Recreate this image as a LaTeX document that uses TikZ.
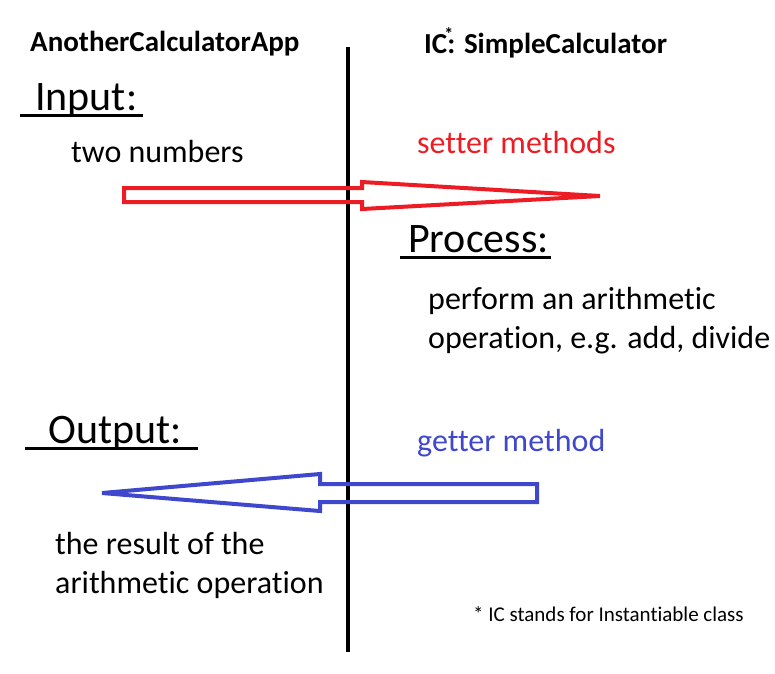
\documentclass[tikz,border=0pt]{standalone}
\usepackage{fontspec}
\setmainfont{Carlito}[Ligatures=NoCommon]
\usepackage{tikz}
\usetikzlibrary{calc}
\definecolor{paintred}{HTML}{ED1C24}
\definecolor{paintblue}{HTML}{3F48CC}
\newcommand{\icstar}{\rlap{\kern-3pt\raisebox{13pt}{\fontsize{18}{20}\selectfont *}}}
\tikzset{
  cls/title/.style={font=\fontsize{29}{34}\selectfont\bfseries, anchor=base west, inner sep=0pt},
  io/head/.style={font=\fontsize{42}{50}\selectfont, anchor=base west, inner sep=0pt},
  io/text/.style={font=\fontsize{32}{39}\selectfont, anchor=base west, inner sep=0pt, align=left},
  io/note/.style={font=\fontsize{21}{25}\selectfont, anchor=base west, inner sep=0pt},
  io/uline/.style={line width=3pt},
  io/divider/.style={line width=4pt},
  call/red/.style={draw=paintred, line width=4pt, line join=miter},
  call/blue/.style={draw=paintblue, line width=4pt, line join=miter}
}

\begin{document}
\begin{tikzpicture}[x=1pt, y=-1pt]
\useasboundingbox (0,0) rectangle (775,673);

% class names
\node[cls/title] (app) at (30,51) {AnotherCalculatorApp};
\node[cls/title] (ic) at (424,53) {IC\icstar: SimpleCalculator};

% dividing line
\coordinate (top) at (348,47);
\coordinate (bot) at (348,652);
\draw[io/divider] (top) -- (bot);

% input side
\node[io/head] (input) at (35,110) {Input:};
\draw[io/uline] (20,115) -- (143,115);
\node[io/text] (nums) at (71,162) {two numbers};
\node[io/text, text=paintred] (setter) at (417,153) {setter methods};

% setter arrow
\coordinate (redtip) at (600,196);
\draw[call/red] (124,188) -- (362,188) -- (362,182) -- (redtip)
  -- (362,209) -- (362,202) -- (124,202) -- cycle;

% process
\node[io/head] (process) at (408,252) {Process:};
\draw[io/uline] (400,257) -- (551,257);
\node[io/text] (op1) at (428,309) {perform an arithmetic};
\node[io/text] (op2) at (428,348) {operation, e.g. add, divide};

% output side
\node[io/head] (output) at (48,443) {Output:};
\draw[io/uline] (25,448) -- (198,448);
\node[io/text, text=paintblue] (getter) at (417,451) {getter method};

% getter arrow
\coordinate (bluetip) at (102,493);
\draw[call/blue] (537,484) -- (320,484) -- (320,474) -- (bluetip)
  -- (320,511) -- (320,502) -- (537,502) -- cycle;

\node[io/text] (res1) at (55,554) {the result of the};
\node[io/text] (res2) at (55,593) {arithmetic operation};

% footnote
\node[io/note] (note) at (473,621) {* IC stands for Instantiable class};
\end{tikzpicture}
\end{document}
